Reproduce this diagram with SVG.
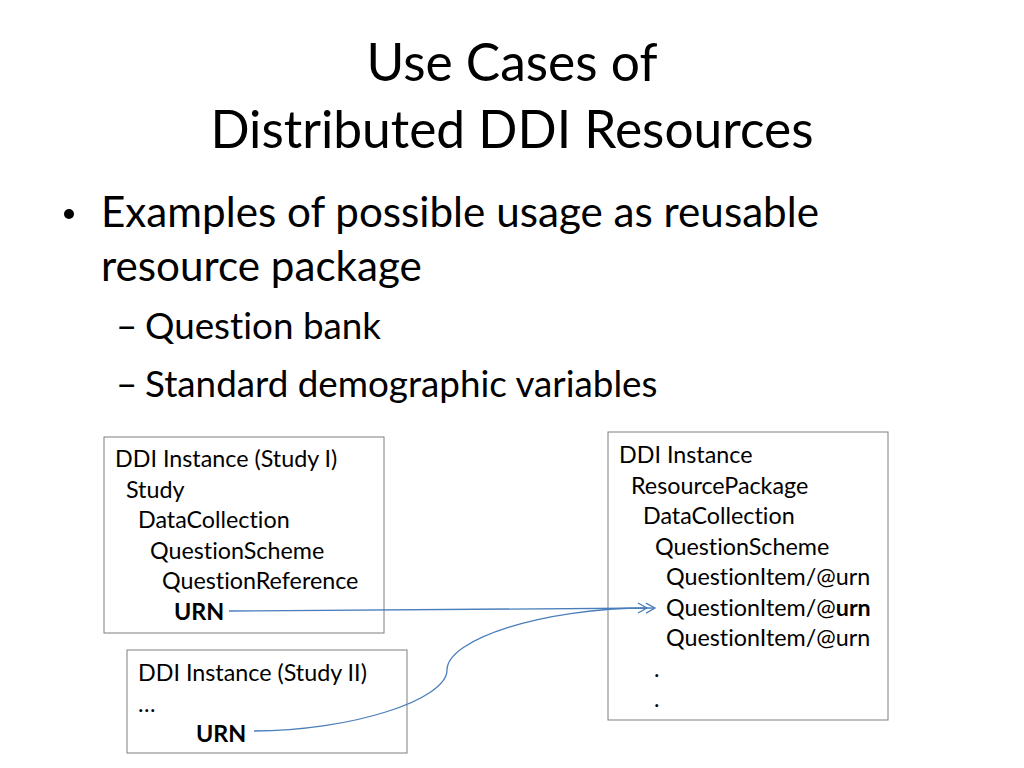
<svg xmlns="http://www.w3.org/2000/svg" width="1024" height="768" viewBox="0 0 1024 768">
<style>
text{font-family:Lato,"Liberation Sans",sans-serif;fill:#000;font-variant-ligatures:none}
.t{font-size:51.5px;text-anchor:middle}
.b1{font-size:42.2px}
.b2{font-size:36.8px}
.n{font-size:23.3px}
.bold{font-weight:bold}
.box{fill:#fff;stroke:#7f7f7f;stroke-width:1}
.c{fill:none;stroke:#4A7EBB;stroke-width:1.3}
</style>
<defs>
<marker id="oa" markerWidth="12" markerHeight="14" refX="10" refY="6" orient="auto" markerUnits="userSpaceOnUse">
<polyline points="1,1 10,6 1,11" fill="none" stroke="#4A7EBB" stroke-width="1.3"/>
</marker>
</defs>
<rect width="1024" height="768" fill="#fff"/>
<g id="title">
<text class="t" x="512" y="81">Use Cases of</text>
<text class="t" x="512" y="148">Distributed DDI Resources</text>
</g>
<g id="bullets">
<circle cx="69" cy="214" r="5" fill="#000"/>
<text class="b1" x="101" y="227">Examples of possible usage as reusable</text>
<text class="b1" x="101" y="281">resource package</text>
<text class="b2" x="116" y="339">–</text>
<text class="b2" x="145" y="339">Question bank</text>
<text class="b2" x="116" y="397">–</text>
<text class="b2" x="145" y="397">Standard demographic variables</text>
</g>
<g id="study1">
<rect class="box" x="104" y="437" width="280" height="196"/>
<text class="n" x="115" y="467">DDI Instance (Study I)</text>
<text class="n" x="126" y="497.6">Study</text>
<text class="n" x="138" y="528.2">DataCollection</text>
<text class="n" x="150" y="558.8">QuestionScheme</text>
<text class="n" x="162" y="589.4">QuestionReference</text>
<text class="n bold" x="174" y="620">URN</text>
</g>
<g id="study2">
<rect class="box" x="127" y="650" width="280" height="103"/>
<text class="n" x="138" y="681">DDI Instance (Study II)</text>
<text class="n" x="138" y="712">…</text>
<text class="n bold" x="196" y="742">URN</text>
</g>
<g id="resource">
<rect class="box" x="608" y="432" width="280" height="288"/>
<text class="n" x="619" y="463">DDI Instance</text>
<text class="n" x="631" y="493.5">ResourcePackage</text>
<text class="n" x="643" y="524">DataCollection</text>
<text class="n" x="655" y="554.5">QuestionScheme</text>
<text class="n" x="666" y="585">QuestionItem/@urn</text>
<text class="n" x="666" y="615.5">QuestionItem/@<tspan class="bold">urn</tspan></text>
<text class="n" x="666" y="646">QuestionItem/@urn</text>
<text class="n" x="654" y="676.5">.</text>
<text class="n" x="654" y="707">.</text>
</g>
<g id="connectors">
<path class="c" d="M229,611 L655,608" marker-end="url(#oa)"/>
<path class="c" d="M254,731 C350,731 447,700 447,670 C447,639 544,608 647,608" marker-end="url(#oa)"/>
</g>
</svg>
